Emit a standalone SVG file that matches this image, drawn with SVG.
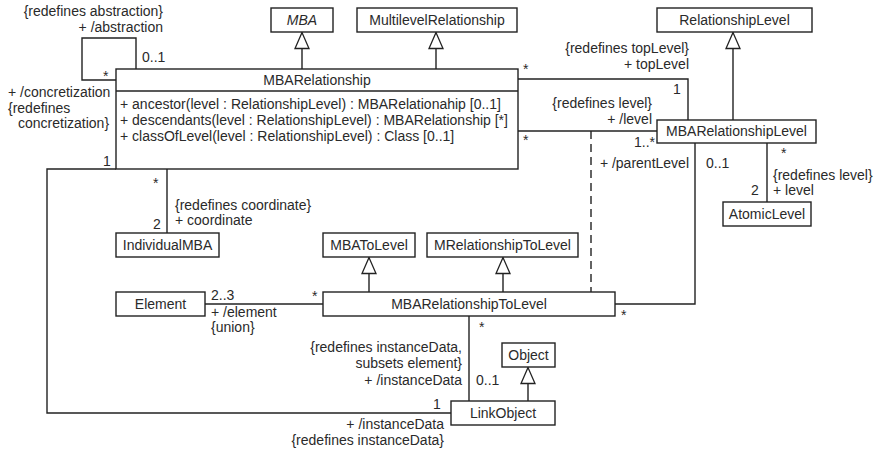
<svg xmlns="http://www.w3.org/2000/svg" width="877" height="455" viewBox="0 0 877 455">
  <defs>
    <!-- hollow generalization head, apex at the line end -->
    <marker id="gen" markerUnits="userSpaceOnUse" markerWidth="18" markerHeight="18" refX="16.5" refY="8" orient="auto" viewBox="0 0 18 16" overflow="visible">
      <path d="M16.5,8 L0.5,1 L0.5,15 Z" fill="#fff" stroke="#222" stroke-width="1.3" stroke-linejoin="miter"/>
    </marker>
  </defs>
  <style>
    text { font-family: "Liberation Sans", Arial, sans-serif; font-size: 14px; fill: #2a2a2a; }
    .box { fill: #fff; stroke: #222; stroke-width: 1.4; }
    .c { text-anchor: middle; }
    .e { text-anchor: end; }
    .it { font-style: italic; }
    .ln { fill: none; stroke: #222; stroke-width: 1.4; }
    .dash { stroke-dasharray: 8 5; }
  </style>

  <rect width="877" height="455" fill="#fff"/>

  <g id="connectors">
    <!-- generalizations -->
    <line class="ln" x1="302" y1="69" x2="302" y2="32.5" marker-end="url(#gen)"/>
    <line class="ln" x1="436" y1="69" x2="436" y2="32.5" marker-end="url(#gen)"/>
    <line class="ln" x1="733" y1="120" x2="733" y2="32.5" marker-end="url(#gen)"/>
    <line class="ln" x1="369" y1="292" x2="369" y2="257.5" marker-end="url(#gen)"/>
    <line class="ln" x1="503" y1="292" x2="503" y2="257.5" marker-end="url(#gen)"/>
    <line class="ln" x1="528" y1="401" x2="528" y2="367.5" marker-end="url(#gen)"/>

    <!-- associations -->
    <polyline class="ln" points="116,80 82,80 82,38 136,38 136,69"/>
    <polyline class="ln" points="518,79 688,79 688,120"/>
    <line class="ln" x1="518" y1="131" x2="657" y2="131"/>
    <line class="ln dash" x1="591" y1="131" x2="591" y2="292"/>
    <polyline class="ln" points="695,143 695,304 615,304"/>
    <line class="ln" x1="767" y1="143" x2="767" y2="202"/>
    <line class="ln" x1="167" y1="169" x2="167" y2="233"/>
    <line class="ln" x1="205" y1="304" x2="323" y2="304"/>
    <line class="ln" x1="469" y1="316" x2="469" y2="401"/>
    <polyline class="ln" points="116,169 47,169 47,413 451,413"/>

    <!-- association end labels -->
    <text class="e" x="163" y="16">{redefines abstraction}</text>
    <text class="e" x="163" y="32">+ /abstraction</text>
    <text x="142" y="62">0..1</text>
    <text x="103" y="81">*</text>
    <text x="8" y="97">+ /concretization</text>
    <text x="8" y="113">{redefines</text>
    <text x="18" y="128">concretization}</text>
    <text x="103" y="166">1</text>

    <text x="523" y="74">*</text>
    <text class="e" x="689" y="53">{redefines topLevel}</text>
    <text class="e" x="689" y="69">+ topLevel</text>
    <text x="673" y="94">1</text>
    <text class="e" x="652" y="108">{redefines level}</text>
    <text class="e" x="652" y="124">+ /level</text>
    <text x="523" y="145">*</text>
    <text class="e" x="655" y="147">1..*</text>
    <text class="e" x="689" y="168">+ /parentLevel</text>
    <text x="706" y="168">0..1</text>
    <text x="781" y="158">*</text>
    <text x="773" y="180">{redefines level}</text>
    <text x="773" y="195">+ level</text>
    <text x="751" y="195">2</text>

    <text x="153" y="188">*</text>
    <text x="153" y="229">2</text>
    <text x="175" y="210">{redefines coordinate}</text>
    <text x="175" y="225">+ coordinate</text>

    <text x="211" y="300">2..3</text>
    <text x="211" y="317">+ /element</text>
    <text x="211" y="332">{union}</text>
    <text x="312" y="301">*</text>
    <text x="621" y="320">*</text>

    <text x="479" y="332">*</text>
    <text class="e" x="462" y="352">{redefines instanceData,</text>
    <text class="e" x="462" y="368">subsets element}</text>
    <text class="e" x="462" y="385">+ /instanceData</text>
    <text x="476" y="385">0..1</text>
    <text x="433" y="409">1</text>
    <text class="e" x="444" y="429">+ /instanceData</text>
    <text class="e" x="444" y="445">{redefines instanceData}</text>
  </g>

  <g id="MBA">
    <rect class="box" x="271" y="8" width="62" height="24"/>
    <text class="c it" x="302" y="25">MBA</text>
  </g>
  <g id="MultilevelRelationship">
    <rect class="box" x="357" y="8" width="160" height="24"/>
    <text class="c" x="437" y="25">MultilevelRelationship</text>
  </g>
  <g id="RelationshipLevel">
    <rect class="box" x="657" y="8" width="155" height="24"/>
    <text class="c" x="734.5" y="25">RelationshipLevel</text>
  </g>
  <g id="MBARelationship">
    <rect class="box" x="116" y="69" width="402" height="100"/>
    <line class="ln" x1="116" y1="91" x2="518" y2="91"/>
    <text class="c" x="317" y="85">MBARelationship</text>
    <text x="120" y="109">+ ancestor(level : RelationshipLevel) : MBARelationahip [0..1]</text>
    <text x="120" y="125">+ descendants(level : RelationshipLevel) : MBARelationship [*]</text>
    <text x="120" y="141">+ classOfLevel(level : RelationshipLevel) : Class [0..1]</text>
  </g>
  <g id="MBARelationshipLevel">
    <rect class="box" x="657" y="120" width="159" height="23"/>
    <text class="c" x="736.5" y="136">MBARelationshipLevel</text>
  </g>
  <g id="AtomicLevel">
    <rect class="box" x="723" y="202" width="88" height="24"/>
    <text class="c" x="767" y="219">AtomicLevel</text>
  </g>
  <g id="IndividualMBA">
    <rect class="box" x="116" y="233" width="103" height="24"/>
    <text class="c" x="167.5" y="250">IndividualMBA</text>
  </g>
  <g id="MBAToLevel">
    <rect class="box" x="323" y="233" width="92" height="24"/>
    <text class="c" x="369" y="250">MBAToLevel</text>
  </g>
  <g id="MRelationshipToLevel">
    <rect class="box" x="427" y="233" width="151" height="24"/>
    <text class="c" x="502.5" y="250">MRelationshipToLevel</text>
  </g>
  <g id="Element">
    <rect class="box" x="116" y="292" width="89" height="24"/>
    <text class="c" x="160.5" y="309">Element</text>
  </g>
  <g id="MBARelationshipToLevel">
    <rect class="box" x="323" y="292" width="292" height="24"/>
    <text class="c" x="469" y="309">MBARelationshipToLevel</text>
  </g>
  <g id="Object">
    <rect class="box" x="502" y="343" width="53" height="24"/>
    <text class="c" x="528.5" y="360">Object</text>
  </g>
  <g id="LinkObject">
    <rect class="box" x="451" y="401" width="104" height="24"/>
    <text class="c" x="503" y="418">LinkObject</text>
  </g>
</svg>
